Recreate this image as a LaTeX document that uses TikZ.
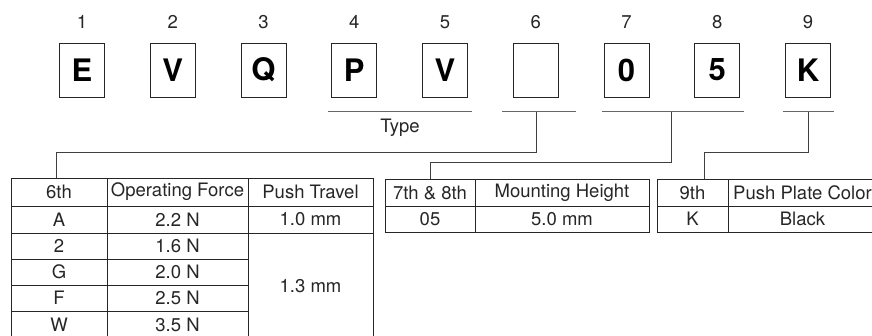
\documentclass[tikz,border=0pt]{standalone}
\usepackage{fontspec}
\setmainfont{TeX Gyre Heros}
\usetikzlibrary{calc}
\newcommand\mkcell[6]{%
  \pgfmathsetmacro\mycw{#4-#2}\pgfmathsetmacro\mych{#5-#3}%
  \pgfmathsetmacro\mycx{(#2+#4)/2}\pgfmathsetmacro\mycy{(#3+#5)/2}%
  \node[cell, minimum width=\mycw pt, minimum height=\mych pt] (#1) at (\mycx,\mycy) {#6};}
\begin{document}
\begin{tikzpicture}[x=1pt,y=-1pt,
  letterbox/.style={draw=black!85, line width=0.9pt, minimum width=45pt, minimum height=54pt,
    inner sep=0pt, font=\fontsize{31}{31}\selectfont\bfseries},
  num/.style={font=\fontsize{18.5}{19}\selectfont, text=black!85, inner sep=0pt},
  cell/.style={draw=black!85, line width=0.9pt, inner sep=0pt, text=black!85,
    font=\fontsize{18.5}{19}\selectfont},
  bracket/.style={draw=black!60, line width=1pt},
  conn/.style={draw=black!75, line width=1pt}]
\useasboundingbox (0,0) rectangle (872,336);
\clip (0,0) rectangle (872,336);
% code boxes and position numbers
\foreach \l [count=\k] in {E,V,Q,P,V,{},0,5,K}{
  \pgfmathsetmacro\bx{82+90.75*(\k-1)}
  \node[letterbox] (b\k) at (\bx,70) {\l};
  \node[num] (n\k) at (\bx,22) {\k};
}
% brackets
\coordinate (tyL) at (328,112); \coordinate (tyR) at (472,112);
\coordinate (s6L) at (502,112); \coordinate (s6R) at (576,112);
\coordinate (s78L) at (602,112); \coordinate (s78R) at (744,112);
\coordinate (s9L) at (783,112); \coordinate (s9R) at (834,112);
\draw[bracket] (tyL) -- (tyR);
\draw[bracket] (s6L) -- (s6R);
\draw[bracket] (s78L) -- (s78R);
\draw[bracket] (s9L) -- (s9R);
\node[num] (type) at (400,128) {Type};
% table 1
\mkcell{h1a}{11}{178}{107}{206}{6th}
\mkcell{h1b}{107}{178}{248}{206}{Operating Force}
\mkcell{h1c}{248}{178}{373}{206}{Push Travel}
\mkcell{r1a}{11}{206}{107}{233}{A}
\mkcell{r1b}{107}{206}{248}{233}{2.2 N}
\mkcell{r1c}{248}{206}{373}{233}{1.0 mm}
\mkcell{r2a}{11}{233}{107}{259}{2}
\mkcell{r2b}{107}{233}{248}{259}{1.6 N}
\mkcell{r3a}{11}{259}{107}{285}{G}
\mkcell{r3b}{107}{259}{248}{285}{2.0 N}
\mkcell{r4a}{11}{285}{107}{311}{F}
\mkcell{r4b}{107}{285}{248}{311}{2.5 N}
\mkcell{r5a}{11}{311}{107}{339}{W}
\mkcell{r5b}{107}{311}{248}{339}{3.5 N}
\mkcell{m1c}{248}{233}{373}{339}{1.3 mm}
% table 2
\mkcell{h2a}{385}{179}{475}{206}{7th \& 8th}
\mkcell{h2b}{475}{179}{649}{206}{Mounting Height}
\mkcell{r2x}{385}{206}{475}{232}{05}
\mkcell{r2y}{475}{206}{649}{232}{5.0 mm}
% table 3
\mkcell{h3a}{657}{179}{728}{206}{9th}
\mkcell{h3b}{728}{179}{877}{206}{Push Plate Color}
\mkcell{r3x}{657}{206}{728}{232}{K}
\mkcell{r3y}{728}{206}{877}{232}{Black}
% connectors
\coordinate (j6a) at ($(s6L)!0.46!(s6R)$);
\coordinate (j6b) at (56,153);
\draw[conn] (j6a) |- (j6b) -- (j6b |- h1a.north);
\coordinate (j78a) at ($(s78L)!0.49!(s78R)$);
\coordinate (j78b) at (430,163);
\draw[conn] (j78a) |- (j78b) -- (j78b |- h2a.north);
\coordinate (j9a) at ($(s9L)!0.49!(s9R)$);
\coordinate (j9b) at (704,153);
\draw[conn] (j9a) |- (j9b) -- (j9b |- h3a.north);
\end{tikzpicture}
\end{document}
